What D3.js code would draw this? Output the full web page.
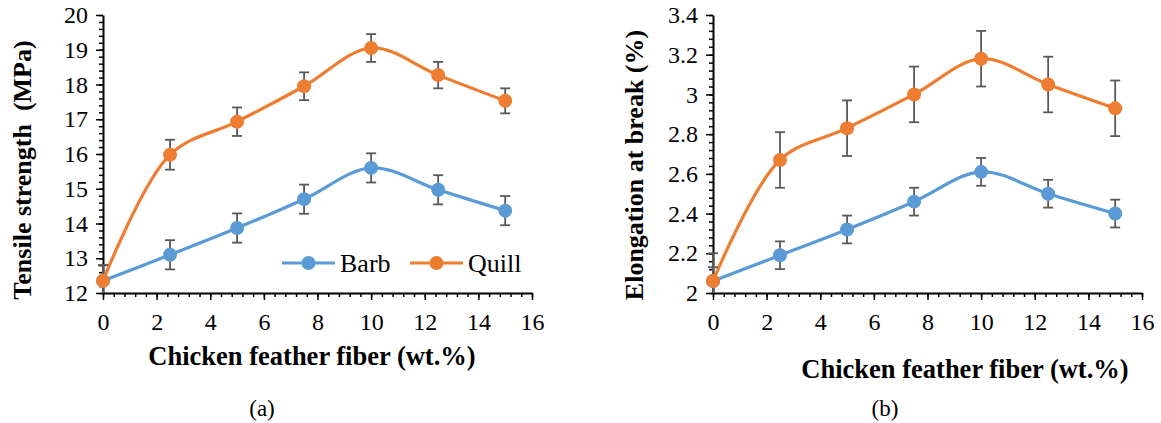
<!DOCTYPE html>
<html><head><meta charset="utf-8">
<script src="https://cdn.jsdelivr.net/npm/d3@7"></script>
<style>
@font-face{font-family:"ChartSerif";font-weight:400;src:local("Liberation Serif"),local("LiberationSerif"),local("LiberationSerif-Regular"),local("Times New Roman");}
@font-face{font-family:"ChartSerif";font-weight:700;src:local("Liberation Serif Bold"),local("LiberationSerif-Bold"),local("Times New Roman Bold");}
body{margin:0;background:#fff}
</style>
</head><body>
<svg id="c" width="1161" height="423"></svg>
<script>
const fiber = [0, 2.5, 5, 7.5, 10, 12.5, 15];
const tensileBarb = [12.35, 13.1, 13.87, 14.7, 15.6, 14.97, 14.37];
const tensileBarbErr = [0.45, 0.42, 0.42, 0.42, 0.42, 0.42, 0.42];
const tensileQuill = [12.35, 15.98, 16.93, 17.95, 19.05, 18.27, 17.53];
const tensileQuillErr = [0.45, 0.43, 0.41, 0.4, 0.4, 0.38, 0.36];
const elongBarb = [2.06, 2.19, 2.32, 2.46, 2.61, 2.50, 2.40];
const elongBarbErr = [0.07, 0.07, 0.07, 0.07, 0.07, 0.07, 0.07];
const elongQuill = [2.06, 2.67, 2.83, 3.0, 3.18, 3.05, 2.93];
const elongQuillErr = [0.14, 0.14, 0.14, 0.14, 0.14, 0.14, 0.14];
const xTicks = [0, 2, 4, 6, 8, 10, 12, 14, 16];
const tensileTicks = [12, 13, 14, 15, 16, 17, 18, 19, 20];
const elongTicks = [2, 2.2, 2.4, 2.6, 2.8, 3, 3.2, 3.4];
const seriesNames = ["Barb", "Quill"];
const colors = {Barb: "#5B9BD5", Quill: "#ED7D31"};
const FONT = '"Liberation Serif", ChartSerif, "Times New Roman", serif';

const svg = d3.select("#c");
svg.append("rect").attr("width",1161).attr("height",423).attr("fill","#fff");

function panel(o, id){
  const g = svg.append("g");
  const x = d3.scaleLinear().domain([0,16]).range([o.x0, o.x1]);
  const y = d3.scaleLinear().domain(o.ydom).range([o.y0, o.y1]);
  g.append("clipPath").attr("id","clip"+id).append("rect")
    .attr("x",o.x0-20).attr("y",o.y1-20).attr("width",o.x1-o.x0+40).attr("height",o.y0-o.y1+20);
  const xmin = d3.range(0, 16.001, 0.4);
  const ymin = d3.range(o.ydom[0], o.ydom[1]+1e-9, o.yminor);
  g.append("g").attr("transform",`translate(0,${o.y0})`)
    .call(d3.axisBottom(x).tickValues(xmin).tickSize(4).tickFormat(""))
    .call(a=>a.select(".domain").remove())
    .call(a=>a.selectAll("line").attr("stroke","#000").attr("stroke-width",1.5));
  g.append("g").attr("transform",`translate(${o.x0},0)`)
    .call(d3.axisLeft(y).tickValues(ymin).tickSize(4).tickFormat(""))
    .call(a=>a.select(".domain").remove())
    .call(a=>a.selectAll("line").attr("stroke","#000").attr("stroke-width",1.5));
  const ax = g.append("g").attr("transform",`translate(0,${o.y0})`)
    .call(d3.axisBottom(x).tickValues(xTicks).tickSize(7).tickSizeOuter(0).tickPadding(13).tickFormat(d3.format("d")));
  ax.attr("font-family",null).attr("font-size",null);
  ax.select(".domain").attr("stroke","#000").attr("stroke-width",2);
  ax.selectAll("line").attr("stroke","#000").attr("stroke-width",1.5);
  ax.selectAll("text").attr("fill","#000").attr("font-size",24).style("font-family",FONT);
  const ay = g.append("g").attr("transform",`translate(${o.x0},0)`)
    .call(d3.axisLeft(y).tickValues(o.yticks).tickSize(7).tickSizeOuter(0).tickPadding(8).tickFormat(o.fmt));
  ay.attr("font-family",null).attr("font-size",null);
  ay.select(".domain").attr("stroke","#000").attr("stroke-width",2);
  ay.selectAll("line").attr("stroke","#000").attr("stroke-width",1.5);
  ay.selectAll("text").attr("fill","#000").attr("font-size",24).style("font-family",FONT);

  const line = d3.line().x(d=>x(d[0])).y(d=>y(d[1])).curve(d3.curveCatmullRom.alpha(0.5));
  const pg = g.append("g").attr("clip-path",`url(#clip${id})`);
  o.series.forEach(s=>{
    const pts = fiber.map((f,i)=>[f, s.v[i], s.e[i]]);
    pg.append("path").datum(pts).attr("d",line).attr("fill","none")
      .attr("stroke",colors[s.name]).attr("stroke-width",3.2);
  });
  o.series.forEach(s=>{
    const pts = fiber.map((f,i)=>[f, s.v[i], s.e[i]]);
    const eb = pg.append("g").attr("stroke","#595959").attr("stroke-width",1.8);
    pts.forEach(p=>{
      eb.append("line").attr("x1",x(p[0])).attr("x2",x(p[0])).attr("y1",y(p[1]-p[2])).attr("y2",y(p[1]+p[2]));
      [p[1]-p[2], p[1]+p[2]].forEach(v=>eb.append("line").attr("x1",x(p[0])-5).attr("x2",x(p[0])+5).attr("y1",y(v)).attr("y2",y(v)));
    });
    g.append("g").selectAll("circle").data(pts).join("circle")
      .attr("cx",d=>x(d[0])).attr("cy",d=>y(d[1])).attr("r",7).attr("fill",colors[s.name]);
  });
  g.append("text").attr("x",o.xtx).attr("y",o.xty).attr("text-anchor","middle")
    .attr("font-size",26.5).attr("font-weight","bold").style("font-family",FONT)
    .text("Chicken feather fiber (wt.%)");
  g.append("text").attr("transform",`translate(${o.ytx},${o.yty}) rotate(-90)`).attr("text-anchor","middle")
    .attr("font-size",26).attr("font-weight","bold").style("font-family",FONT).style("white-space","pre")
    .text(o.ytitle);
  g.append("text").attr("x",o.capx).attr("y",416).attr("text-anchor","middle")
    .attr("font-size",23).style("font-family",FONT).text(o.cap);
  return {x,y,g};
}

panel({x0:103,x1:532,y0:293,y1:15,ydom:[12,20],yminor:0.2,yticks:tensileTicks,fmt:d3.format("d"),
  series:[{name:"Barb",v:tensileBarb,e:tensileBarbErr},{name:"Quill",v:tensileQuill,e:tensileQuillErr}],
  xtx:312,xty:365,ytx:31,yty:170,ytitle:"Tensile strength  (MPa)",capx:262,cap:"(a)"}, "a");
panel({x0:713,x1:1142,y0:293,y1:15,ydom:[2,3.4],yminor:0.04,yticks:elongTicks,fmt:d=>d3.format("")(+d.toFixed(1)),
  series:[{name:"Barb",v:elongBarb,e:elongBarbErr},{name:"Quill",v:elongQuill,e:elongQuillErr}],
  xtx:965,xty:378,ytx:643,yty:165,ytitle:"Elongation at break (%)",capx:885,cap:"(b)"}, "b");

const lg = svg.append("g");
const legX = [282, 410];
seriesNames.forEach((n,i)=>{
  const lx = legX[i], ly = 263;
  lg.append("line").attr("x1",lx).attr("x2",lx+53).attr("y1",ly).attr("y2",ly).attr("stroke",colors[n]).attr("stroke-width",3.2);
  lg.append("circle").attr("cx",lx+26.5).attr("cy",ly).attr("r",7).attr("fill",colors[n]);
  lg.append("text").attr("x",lx+58).attr("y",ly+9).attr("font-size",26).style("font-family",FONT).text(n);
});
</script>
</body></html>
